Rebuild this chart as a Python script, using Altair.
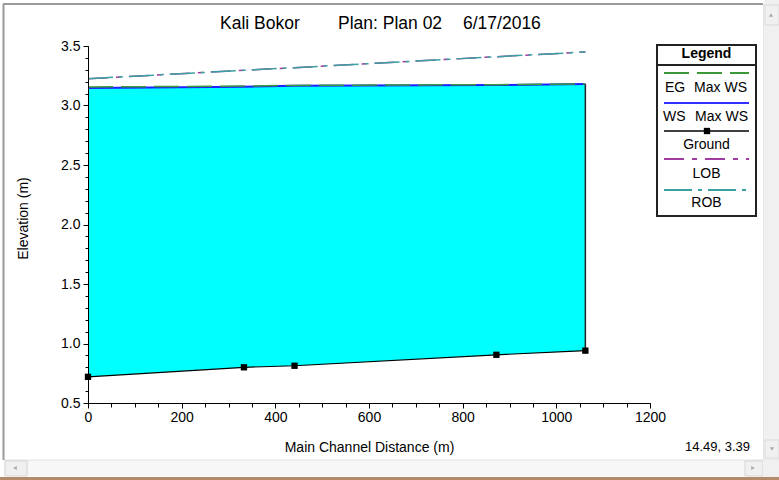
import altair as alt
import pandas as pd

# Main channel stations (m) and the profile values at each cross section
station = [0, 333, 441, 872, 1062]
ground = [0.72, 0.80, 0.813, 0.905, 0.94]
ws_max = [3.147, 3.158, 3.165, 3.172, 3.18]
eg_max = [3.156, 3.163, 3.169, 3.175, 3.182]
lob = [3.225, 3.296, 3.318, 3.41, 3.45]
rob = [3.225, 3.296, 3.318, 3.41, 3.45]

# Axis ticks
x_major = [0, 200, 400, 600, 800, 1000, 1200]
x_minor = [v * 50 for v in range(25)]
y_major = [0.5, 1.0, 1.5, 2.0, 2.5, 3.0, 3.5]
y_minor = [round(0.5 + v * 0.1, 1) for v in range(31)]

FONT = "Liberation Sans"
W, H = 562, 357          # plot area
L, T = 88, 46            # plot area offset inside the page

profile = pd.DataFrame({
    "station": station, "ground": ground, "ws": ws_max,
    "eg": eg_max, "lob": lob, "rob": rob,
})
last = profile.tail(1)
one = pd.DataFrame({"k": [0]})

xs = alt.Scale(domain=[0, 1200], nice=False, zero=False)
ys = alt.Scale(domain=[0.5, 3.5], nice=False, zero=False)


def px(X):
    return X - L


def py(Y):
    return Y - T


def box(x0, y0, x1, y1, fill, stroke=None, sw=0):
    props = dict(fill=fill, strokeWidth=sw)
    if stroke:
        props["stroke"] = stroke
    return alt.Chart(one).mark_rect(**props).encode(
        x=alt.value(px(x0)), x2=alt.value(px(x1)),
        y=alt.value(py(y0)), y2=alt.value(py(y1)))


def hline(x0, x1, y, color, width=1, dash=None):
    props = dict(color=color, strokeWidth=width)
    if dash:
        props["strokeDash"] = dash
    return alt.Chart(one).mark_rule(**props).encode(
        x=alt.value(px(x0)), x2=alt.value(px(x1)), y=alt.value(py(y)))


def vline(x, y0, y1, color, width=1):
    return alt.Chart(one).mark_rule(color=color, strokeWidth=width).encode(
        x=alt.value(px(x)), y=alt.value(py(y0)), y2=alt.value(py(y1)))


def label(x, y, s, size=14, align="center", weight="normal", baseline="middle"):
    return alt.Chart(one).mark_text(
        text=s, font=FONT, fontSize=size, align=align, baseline=baseline,
        fontWeight=weight, color="black").encode(
        x=alt.value(px(x)), y=alt.value(py(y)))


def arrow(x, y, shape):
    return alt.Chart(one).mark_point(
        shape=shape, filled=True, size=18, color="#a8a8a8", opacity=1).encode(
        x=alt.value(px(x)), y=alt.value(py(y)))


# Window frame and scroll bars
chrome = [
    box(764, 0, 779, 460, "#f0f0f0"),
    box(765, 5, 779, 25, "#f0f0f0", "#dadada", 1),
    arrow(771, 15, "triangle-up"),
    box(765, 440, 779, 458, "#f0f0f0", "#dadada", 1),
    arrow(772, 449, "triangle-down"),
    box(4, 460, 763, 476, "#f7f7f7"),
    hline(4, 779, 460, "#e0e0e0", 1),
    box(5, 461, 27, 476, "#f0f0f0", "#d4d4d4", 1),
    arrow(15, 468, "triangle-left"),
    box(745, 461, 763, 476, "#f0f0f0", "#d4d4d4", 1),
    arrow(753, 468, "triangle-right"),
    box(763, 460, 779, 477, "#f0f0f0"),
    box(0, 477, 779, 480, "#b48a68"),
    vline(3.5, 4, 460, "#9a9a9a", 2),
    hline(3, 763, 4, "#9a9a9a", 2),
    vline(763.5, 4, 460, "#e6e6e6", 1),
]

# Hand-drawn legend panel
legend = [
    box(657, 45, 756, 216, "white", "#222222", 2),
    hline(657, 756, 65, "#222222", 2),
    label(706.5, 54, "Legend", 14, weight="bold"),
    hline(664, 749, 73, "#3a9a3a", 2, [25, 8]),
    label(665, 88, "EG", 14, align="left"),
    label(747, 88, "Max WS", 14, align="right"),
    hline(664, 749, 103, "#3030ff", 2),
    label(663, 117, "WS", 14, align="left"),
    label(748, 117, "Max WS", 14, align="right"),
    hline(664, 749, 131, "black", 1.5),
    alt.Chart(one).mark_square(size=40, color="black", opacity=1).encode(
        x=alt.value(px(707)), y=alt.value(py(131))),
    label(706.5, 145, "Ground", 14),
    hline(664, 749, 159, "#a03ca0", 2, [20, 8, 5, 8]),
    label(706.5, 174, "LOB", 14),
    hline(664, 749, 190, "#3aa0a0", 2, [28, 6, 4, 6]),
    label(706.5, 203, "ROB", 14),
]

axis_style = dict(
    grid=False, domainColor="black", tickColor="black", labelColor="black",
    labelFont=FONT, labelFontSize=14, titleFont=FONT, titleFontSize=14,
    titleFontWeight="normal", titleColor="black", labelFlush=False,
    labelOverlap=False, zindex=1,
)

base = alt.Chart(profile)

flow_area = base.mark_area(color="#00ffff", opacity=1).encode(
    x=alt.X("station:Q", scale=xs, axis=alt.Axis(
        values=x_major, format="d", tickSize=5, labelPadding=2,
        title="Main Channel Distance (m)", titleX=W / 2, titleY=44,
        titleBaseline="middle", **axis_style)),
    y=alt.Y("ws:Q", scale=ys, axis=alt.Axis(
        values=y_major, format=".1f", tickSize=5, labelPadding=3,
        title="Elevation (m)", titleX=px(23), titleY=py(218),
        titleBaseline="middle", titleAlign="center", **axis_style)),
    y2="ground:Q",
)

end_wall = alt.Chart(last).mark_rule(color="#222222", strokeWidth=1.5).encode(
    x=alt.X("station:Q", scale=xs, axis=None),
    y=alt.Y("ground:Q", scale=ys, axis=None),
    y2="ws:Q",
)


def profile_line(field, color, width, dash=None):
    props = dict(color=color, strokeWidth=width)
    if dash:
        props["strokeDash"] = dash
    return base.mark_line(**props).encode(
        x=alt.X("station:Q", scale=xs, axis=None),
        y=alt.Y(f"{field}:Q", scale=ys, axis=None),
    )


lob_line = profile_line("lob", "#a03ca0", 1.5, [20, 8, 5, 8])
rob_line = profile_line("rob", "#3aa0a0", 1.5, [25, 6, 4, 6])
ws_line = profile_line("ws", "#2020ff", 2)
eg_line = profile_line("eg", "#3a9a3a", 1.5, [25, 8])
ground_line = profile_line("ground", "black", 1.2)

ground_pts = base.mark_square(size=40, color="black", opacity=1).encode(
    x=alt.X("station:Q", scale=xs, axis=alt.Axis(
        values=x_minor, labels=False, domain=False, tickSize=4, title=None,
        orient="bottom", grid=False, tickColor="black")),
    y=alt.Y("ground:Q", scale=ys, axis=alt.Axis(
        values=y_minor, labels=False, domain=False, tickSize=3, title=None,
        orient="left", grid=False, tickColor="black")),
)

texts = [
    label(220, 28.5, "Kali Bokor", 17.5, align="left", baseline="alphabetic"),
    label(338, 28.5, "Plan: Plan 02", 17.5, align="left", baseline="alphabetic"),
    label(463, 28.5, "6/17/2016", 17.5, align="left", baseline="alphabetic"),
    label(750, 447, "14.49, 3.39", 13, align="right"),
]

chart = alt.layer(
    *chrome, *legend,
    flow_area, end_wall, lob_line, rob_line, ws_line, eg_line,
    ground_line, ground_pts, *texts,
).resolve_axis(
    x="independent", y="independent"
).properties(
    width=W, height=H,
    autosize=alt.AutoSizeParams(type="none"),
    padding={"left": L, "top": T, "right": 779 - L - W, "bottom": 480 - T - H},
    background="white",
).configure_view(strokeWidth=0)

chart.save("out.html", embed_options={"renderer": "svg", "actions": False})
